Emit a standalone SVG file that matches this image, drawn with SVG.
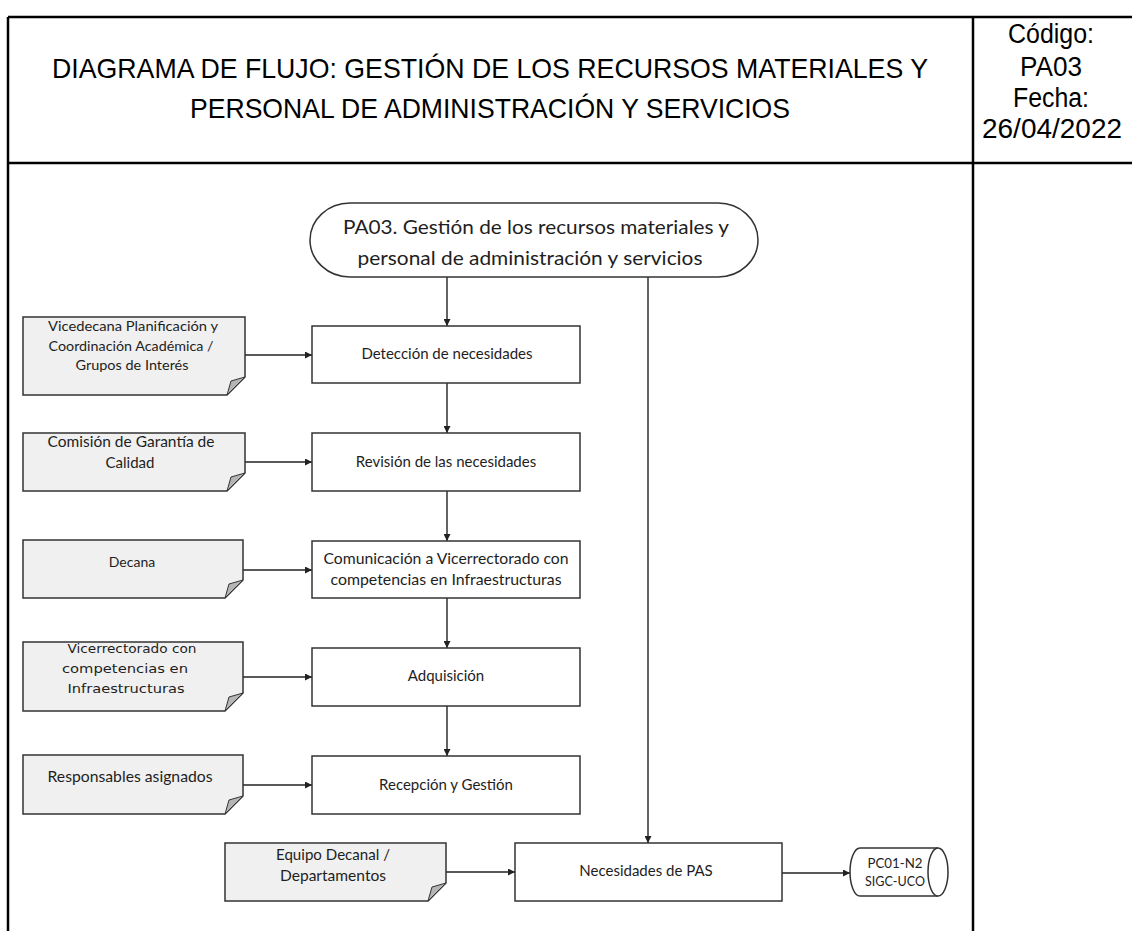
<svg xmlns="http://www.w3.org/2000/svg" width="1132" height="931" viewBox="0 0 1132 931">
<defs>
<style>
.frame{stroke:#000;stroke-width:2.5;fill:none}
.hdr{font-family:"Liberation Sans Narrow","Liberation Sans",Arial,sans-serif;font-size:28px;fill:#000;text-anchor:middle}
.hdr2{font-family:"Liberation Sans",Arial,sans-serif;font-size:27px;fill:#000;text-anchor:middle}
.box{fill:#fff;stroke:#333;stroke-width:1.5}
.doc{fill:#f0f0f0;stroke:#333;stroke-width:1.5}
.fold{fill:#b5b5b5;stroke:#333;stroke-width:1}
.t{font-family:Lato,"Open Sans","Liberation Sans",sans-serif;font-size:15px;fill:#1e1e1e;text-anchor:middle}
.tv{font-family:"DejaVu Sans",Verdana,sans-serif;font-size:13px;fill:#1e1e1e;text-anchor:middle}
.edge{stroke:#222;stroke-width:1.4;fill:none;marker-end:url(#arr)}
</style>
<marker id="arr" viewBox="0 0 10 10" refX="10" refY="5" markerWidth="7" markerHeight="7" markerUnits="userSpaceOnUse" orient="auto">
<path d="M0,0 L10,5 L0,10 Z" fill="#222"/>
</marker>
</defs>
<rect width="1132" height="931" fill="#fff"/>
<g id="frame">
<path class="frame" d="M8,17 H1132 M8,163 H1132 M8,17 V931 M973,17 V931"/>
<text class="hdr" x="490" y="78" textLength="876" lengthAdjust="spacingAndGlyphs">DIAGRAMA DE FLUJO: GESTIÓN DE LOS RECURSOS MATERIALES Y</text>
<text class="hdr" x="490" y="118" textLength="600" lengthAdjust="spacingAndGlyphs">PERSONAL DE ADMINISTRACIÓN Y SERVICIOS</text>
<text class="hdr2" x="1051" y="43" textLength="86" lengthAdjust="spacingAndGlyphs">Código:</text>
<text class="hdr2" x="1051" y="76" textLength="62" lengthAdjust="spacingAndGlyphs">PA03</text>
<text class="hdr2" x="1051" y="107" textLength="76" lengthAdjust="spacingAndGlyphs">Fecha:</text>
<text class="hdr2" x="1052" y="138" textLength="140" lengthAdjust="spacingAndGlyphs">26/04/2022</text>
</g>
<g id="connectors">
<path class="edge" d="M447,277 V326"/>
<path class="edge" d="M648,277 V843"/>
<path class="edge" d="M447,383 V433"/>
<path class="edge" d="M447,491 V541"/>
<path class="edge" d="M447,598 V648"/>
<path class="edge" d="M447,706 V756"/>
<path class="edge" d="M245,355 H312"/>
<path class="edge" d="M245,462 H312"/>
<path class="edge" d="M243,570 H312"/>
<path class="edge" d="M243,677 H312"/>
<path class="edge" d="M243,785 H312"/>
<path class="edge" d="M446,872 H515"/>
<path class="edge" d="M782,873 H850"/>
</g>
<g id="start">
<rect class="box" x="310" y="203" width="448" height="74" rx="40" ry="37"/>
<text class="t" x="536" y="234" style="font-size:20px" textLength="386" lengthAdjust="spacingAndGlyphs">PA03. Gestión de los recursos materiales y</text>
<text class="t" x="530" y="265" style="font-size:20px" textLength="345" lengthAdjust="spacingAndGlyphs">personal de administración y servicios</text>
</g>
<g id="deteccion">
<rect class="box" x="312" y="326" width="268" height="57"/>
<text class="t" x="447" y="359">Detección de necesidades</text>
</g>
<g id="revision">
<rect class="box" x="312" y="433" width="268" height="58"/>
<text class="t" x="446" y="467">Revisión de las necesidades</text>
</g>
<g id="comunicacion">
<rect class="box" x="312" y="541" width="268" height="57"/>
<text class="t" x="446" y="564" textLength="245" lengthAdjust="spacingAndGlyphs">Comunicación a Vicerrectorado con</text>
<text class="t" x="446" y="585" textLength="231" lengthAdjust="spacingAndGlyphs">competencias en Infraestructuras</text>
</g>
<g id="adquisicion">
<rect class="box" x="312" y="648" width="268" height="58"/>
<text class="t" x="446" y="681">Adquisición</text>
</g>
<g id="recepcion">
<rect class="box" x="312" y="756" width="268" height="58"/>
<text class="t" x="446" y="790">Recepción y Gestión</text>
</g>
<g id="necesidades-pas">
<rect class="box" x="515" y="843" width="267" height="58"/>
<text class="t" x="646" y="876">Necesidades de PAS</text>
</g>
<g id="pc01">
<path class="box" d="M860,848 H938 A10,24 0 0 1 938,896 H860 A10,24 0 0 1 860,848 Z"/>
<path class="box" d="M938,848 A10,24 0 0 0 938,896" fill="none"/>
<text class="t" x="895" y="868" style="font-size:13.5px" textLength="55" lengthAdjust="spacingAndGlyphs">PC01-N2</text>
<text class="t" x="895" y="886" style="font-size:13.5px" textLength="60" lengthAdjust="spacingAndGlyphs">SIGC-UCO</text>
</g>
<g id="doc-vicedecana">
<path class="doc" d="M23,317 H245 V377 L227,395 H23 Z"/>
<path class="fold" d="M245,377 L227,395 L231,381 Z"/>
<text class="t" x="133" y="331" style="font-size:13px" textLength="170" lengthAdjust="spacingAndGlyphs">Vicedecana Planificación y</text>
<text class="t" x="131" y="351" style="font-size:13px" textLength="165" lengthAdjust="spacingAndGlyphs">Coordinación Académica /</text>
<text class="t" x="132" y="370" style="font-size:13px" textLength="113" lengthAdjust="spacingAndGlyphs">Grupos de Interés</text>
</g>
<g id="doc-comision">
<path class="doc" d="M23,433 H245 V473 L227,491 H23 Z"/>
<path class="fold" d="M245,473 L227,491 L231,477 Z"/>
<text class="t" x="131" y="447" textLength="167" lengthAdjust="spacingAndGlyphs">Comisión de Garantía de</text>
<text class="t" x="130" y="468">Calidad</text>
</g>
<g id="doc-decana">
<path class="doc" d="M23,540 H243 V580 L225,598 H23 Z"/>
<path class="fold" d="M243,580 L225,598 L229,584 Z"/>
<text class="t" x="132" y="567" style="font-size:14px">Decana</text>
</g>
<g id="doc-vicerrectorado">
<path class="doc" d="M23,642 H243 V693 L225,711 H23 Z"/>
<path class="fold" d="M243,693 L225,711 L229,697 Z"/>
<text class="tv" x="132" y="653" textLength="129" lengthAdjust="spacingAndGlyphs">Vicerrectorado con</text>
<text class="tv" x="125" y="673" textLength="126" lengthAdjust="spacingAndGlyphs">competencias en</text>
<text class="tv" x="126" y="693" textLength="117" lengthAdjust="spacingAndGlyphs">Infraestructuras</text>
</g>
<g id="doc-responsables">
<path class="doc" d="M23,755 H243 V796 L225,814 H23 Z"/>
<path class="fold" d="M243,796 L225,814 L229,800 Z"/>
<text class="t" x="130" y="782" textLength="165" lengthAdjust="spacingAndGlyphs">Responsables asignados</text>
</g>
<g id="doc-equipo">
<path class="doc" d="M225,843 H446 V883 L428,901 H225 Z"/>
<path class="fold" d="M446,883 L428,901 L432,887 Z"/>
<text class="t" x="333" y="860" textLength="114" lengthAdjust="spacingAndGlyphs">Equipo Decanal /</text>
<text class="t" x="333" y="881" textLength="106" lengthAdjust="spacingAndGlyphs">Departamentos</text>
</g>
</svg>
